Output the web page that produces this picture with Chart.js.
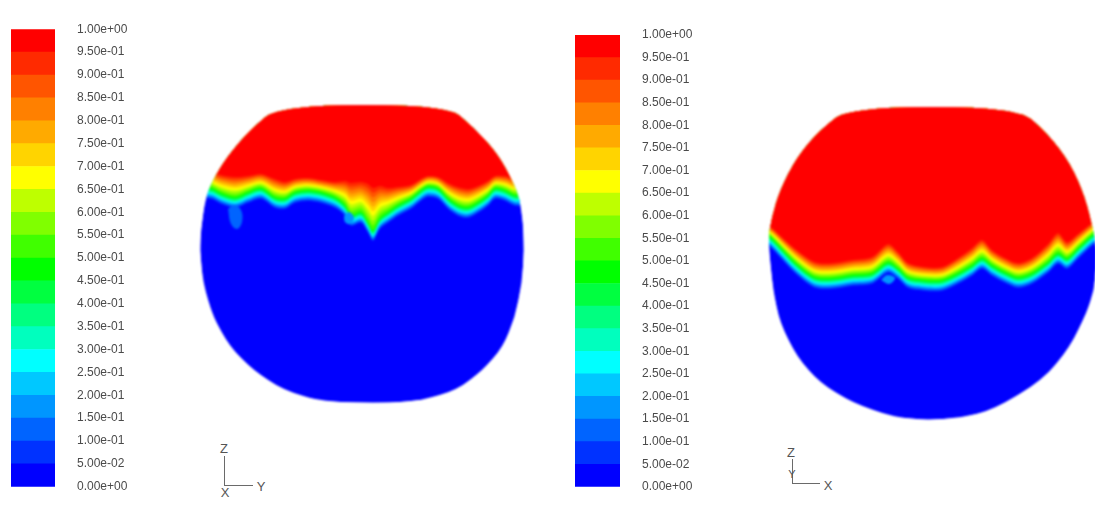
<!DOCTYPE html>
<html>
<head>
<meta charset="utf-8">
<script src="https://cdn.jsdelivr.net/npm/chart.js@4.4.0/dist/chart.umd.min.js"></script>
<style>
  html, body { margin: 0; padding: 0; background: #fff; }
  body { width: 1095px; height: 516px; overflow: hidden; position: relative; }
  canvas { position: absolute; display: block; }
  .sphere { filter: blur(1px); }
  .tl { position: absolute; background: #6a6a6a; }
  .tt { position: absolute; font: 13px "Liberation Sans", Arial, sans-serif; color: #555; line-height: 1; transform: translate(-50%, -50%); }
</style>
</head>
<body>
<canvas id="barL" width="155" height="516" style="left:0;top:0"></canvas>
<canvas id="sphL" class="sphere" width="340" height="340" style="left:192px;top:90px"></canvas>
<canvas id="barR" width="156" height="516" style="left:564px;top:0"></canvas>
<canvas id="sphR" class="sphere" width="340" height="340" style="left:763px;top:90px"></canvas>

<!-- orientation triads -->
<div class="tl" style="left:224px;top:456px;width:1px;height:30px"></div>
<div class="tl" style="left:224px;top:485px;width:29px;height:1px"></div>
<span class="tt" style="left:224px;top:448px">Z</span>
<span class="tt" style="left:261px;top:486px">Y</span>
<span class="tt" style="left:225px;top:492px">X</span>

<div class="tl" style="left:792px;top:459px;width:1px;height:25px"></div>
<div class="tl" style="left:792px;top:483px;width:28px;height:1px"></div>
<span class="tt" style="left:791px;top:452px">Z</span>
<span class="tt" style="left:792px;top:474px;font-size:11px">Y</span>
<span class="tt" style="left:828px;top:485px">X</span>

<script>
// Volume fraction contour levels: 20 bands from 0 to 1
const bandStep = 0.05;
const bandColors = [
  'rgb(0,0,255)',   'rgb(0,50,255)',   'rgb(0,100,255)',  'rgb(0,150,255)',
  'rgb(0,200,255)', 'rgb(0,255,255)',  'rgb(0,255,190)',  'rgb(0,255,128)',
  'rgb(0,255,64)',  'rgb(0,255,0)',    'rgb(64,255,0)',   'rgb(128,255,0)',
  'rgb(190,255,0)', 'rgb(255,255,0)',  'rgb(255,212,0)',  'rgb(255,170,0)',
  'rgb(255,128,0)', 'rgb(255,85,0)',   'rgb(255,42,0)',   'rgb(255,0,0)'
];
const tickLabels = [
  '0.00e+00', '5.00e-02', '1.00e-01', '1.50e-01', '2.00e-01', '2.50e-01', '3.00e-01',
  '3.50e-01', '4.00e-01', '4.50e-01', '5.00e-01', '5.50e-01', '6.00e-01', '6.50e-01',
  '7.00e-01', '7.50e-01', '8.00e-01', '8.50e-01', '9.00e-01', '9.50e-01', '1.00e+00'
];

// Section outlines, [horizontal, vertical] in mm from the vessel centre
const leftOutline = [
  [-82, 145], [85, 145], [111, 123], [135, 97], [150, 70], [158, 50], [161, 27],
  [162, 0], [160, -33], [153, -67], [141, -97], [121, -120], [95, -140], [61, -150],
  [28, -153], [-39, -152], [-79, -140], [-109, -120], [-132, -97], [-149, -67],
  [-159, -33], [-162, 0], [-161, 20], [-157, 50], [-149, 70], [-135, 93], [-112, 120]
];
const rightOutline = [
  [-83, 143], [84, 143], [114, 117], [137, 87], [152, 53], [160, 20], [164, 0],
  [163, -20], [161, -40], [154, -62], [137, -97], [110, -130], [60, -160], [27, -168],
  [-6, -170], [-40, -167], [-80, -153], [-113, -133], [-136, -107], [-153, -73],
  [-160, -40], [-165, 10], [-161, 33], [-153, 60], [-136, 93], [-113, 120]
];

// Phase interface (0.5 volume fraction), [horizontal, vertical] in mm
const leftInterface = [
  [-170, 62], [-151, 62], [-141, 57], [-127, 53], [-114, 58], [-101, 62], [-87, 53],
  [-77, 52], [-67, 58], [-54, 60], [-41, 58], [-27, 53], [-17, 45], [-11, 35],
  [-1, 38], [6, 28], [11, 20], [18, 32], [26, 38], [36, 45], [49, 52], [59, 60],
  [66, 64], [76, 62], [86, 52], [96, 45], [106, 43], [116, 48], [126, 55],
  [133, 62], [143, 60], [153, 55], [170, 55]
];
const rightInterface = [
  [-170, 18], [-161, 12], [-148, -2], [-135, -15], [-118, -27], [-101, -28], [-81, -25],
  [-61, -23], [-45, -12], [-35, -18], [-25, -27], [-8, -30], [9, -30], [25, -23],
  [39, -15], [49, -8], [59, -15], [72, -22], [85, -27], [99, -23], [115, -12],
  [125, -3], [134, -8], [145, 2], [159, 15], [170, 22]
];

// Height of the mixed zone above the interface up to the pure upper phase (mm),
// one value per interface point
const leftSpreadAbove = [
  16, 16, 18, 20, 16, 14, 18, 16, 13, 12, 12, 15, 24, 32, 30, 38, 42,
  32, 24, 18, 13, 11, 10, 11, 15, 18, 18, 16, 14, 12, 14, 16, 16
];
const rightSpreadAbove = [
  10, 10, 12, 14, 15, 15, 15, 16, 18, 16, 14, 13, 13,
  15, 17, 18, 15, 14, 14, 15, 18, 20, 16, 14, 12, 12
];
// Depth of the mixed zone below the interface (mm)
const spreadBelow = 11;

// Isolated droplets of the mixture below the interface: band index and outline
const leftPocketBands = [2, 3];
const leftPockets = [
  [[-134, 41], [-128, 45], [-121, 40], [-120, 28], [-125, 21], [-131, 26]],
  [[-18, 34], [-13, 38], [-8, 32], [-12, 26], [-17, 28]]
];
const rightPocketBands = [3];
const rightPockets = [
  [[-52, -30], [-46, -25], [-38, -28], [-44, -34]]
];

const outlineClip = {
  id: 'outlineClip',
  beforeDatasetsDraw(chart, args, opts) {
    const { ctx, scales: { x, y } } = chart;
    const pts = opts.points.map(([a, b]) => [x.getPixelForValue(a), y.getPixelForValue(b)]);
    const n = pts.length;
    const mid = (p, q) => [(p[0] + q[0]) / 2, (p[1] + q[1]) / 2];
    ctx.save();
    ctx.beginPath();
    const m0 = mid(pts[n - 1], pts[0]);
    ctx.moveTo(m0[0], m0[1]);
    for (let i = 0; i < n; i++) {
      const m = mid(pts[i], pts[(i + 1) % n]);
      ctx.quadraticCurveTo(pts[i][0], pts[i][1], m[0], m[1]);
    }
    ctx.closePath();
    ctx.clip();
  },
  afterDatasetsDraw(chart) {
    chart.ctx.restore();
  }
};

function colorbar(id, padTop, padBottom, fontSize) {
  new Chart(document.getElementById(id), {
    type: 'bar',
    data: {
      labels: [''],
      datasets: bandColors.map(c => ({
        data: [bandStep], backgroundColor: c, borderWidth: 0,
        barPercentage: 1, categoryPercentage: 1
      }))
    },
    options: {
      responsive: false, animation: false, events: [],
      layout: { padding: { left: 11, right: 0, top: padTop, bottom: padBottom } },
      plugins: { legend: { display: false }, tooltip: { enabled: false } },
      scales: {
        x: { stacked: true, display: false },
        y: {
          stacked: true, min: 0, max: 1, position: 'right',
          grid: { display: false, drawTicks: false },
          border: { display: false },
          afterFit: s => { s.width = 100; },
          afterBuildTicks: s => { s.ticks = tickLabels.map((t, i) => ({ value: i * bandStep })); },
          ticks: {
            autoSkip: false, padding: 22, color: '#4a4a4a',
            font: { family: '"Liberation Sans", Arial, sans-serif', size: fontSize },
            callback: (v, i) => tickLabels[i]
          }
        }
      }
    }
  });
}

function section(id, outline, iface, spreadAbove, pockets, pocketBands) {
  const n = bandColors.length;
  // The lowest band (base fill of the section) is painted first, higher bands on top
  const datasets = [{
    data: outline.map(([x, y]) => ({ x, y })),
    fill: 'shape', backgroundColor: bandColors[0],
    borderWidth: 0, pointRadius: 0, tension: 0, order: n
  }];
  for (let k = 1; k < n; k++) {
    const level = k * bandStep;
    datasets.push({
      data: iface.map(([x, y], i) => {
        const off = level >= 0.5
          ? (level - 0.5) / 0.45 * spreadAbove[i]
          : -(0.5 - level) / 0.45 * spreadBelow;
        return { x, y: y + off };
      }),
      fill: 'end', backgroundColor: bandColors[k],
      borderWidth: 0, pointRadius: 0, tension: 0.3, order: n - k
    });
  }
  // droplets are painted last, in listed order
  pockets.forEach((p, i) => {
    datasets.push({
      data: p.concat([p[0]]).map(([x, y]) => ({ x, y })),
      fill: 'shape', backgroundColor: bandColors[pocketBands[i]],
      borderWidth: 0, pointRadius: 0, tension: 0.4, order: -1 - i
    });
  });
  new Chart(document.getElementById(id), {
    type: 'line',
    data: { datasets },
    options: {
      responsive: false, animation: false, events: [],
      layout: { padding: 0 },
      plugins: { legend: { display: false }, tooltip: { enabled: false }, outlineClip: { points: outline } },
      scales: {
        x: { type: 'linear', min: -170, max: 170, display: false },
        y: { type: 'linear', min: -180, max: 160, display: false }
      }
    },
    plugins: [outlineClip]
  });
}

colorbar('barL', 15, 12, 12);
colorbar('barR', 35, 11, 12);
section('sphL', leftOutline, leftInterface, leftSpreadAbove, leftPockets, leftPocketBands);
section('sphR', rightOutline, rightInterface, rightSpreadAbove, rightPockets, rightPocketBands);
</script>
</body>
</html>
